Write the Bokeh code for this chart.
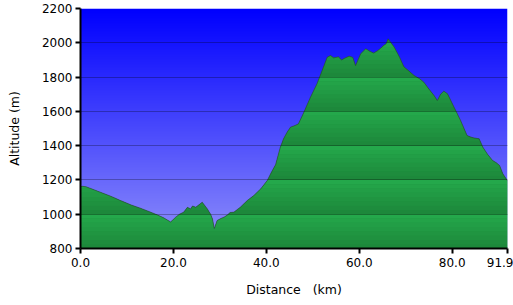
import numpy as np
from bokeh.plotting import figure
from bokeh.models import Range1d, FixedTicker, NumeralTickFormatter
from bokeh.embed import file_html
from bokeh.resources import INLINE

# ---- data ----
dist_km = [0.0, 0.4, 1.2, 2.2, 4.3, 6.5, 8.6, 10.8, 12.9, 15.1, 16.6, 17.9, 19.4,
           20.5, 21.3, 22.2, 23.0, 23.7, 24.1, 24.8, 25.5, 26.2, 27.3, 28.0, 28.4,
           28.8, 29.4, 30.2, 30.9, 31.6, 32.2, 33.0, 34.4, 35.9, 37.3, 38.8, 40.2,
           41.0, 42.0, 43.0, 43.7, 44.5, 45.2, 46.2, 46.9, 48.0, 49.5, 50.9, 52.0,
           53.1, 53.8, 54.5, 55.5, 56.2, 56.7, 57.8, 58.6, 59.2, 60.3, 61.4, 62.3,
           63.1, 64.0, 64.6, 65.3, 65.8, 66.2, 67.5, 68.6, 69.6, 70.7, 71.8, 73.0,
           73.9, 75.0, 76.1, 76.8, 77.5, 78.2, 79.0, 80.4, 81.8, 83.2, 84.0, 84.7,
           85.8, 86.6, 87.6, 88.7, 89.5, 90.2, 90.9, 91.9]
alt_m = [1160, 1163, 1160, 1150, 1128, 1105, 1080, 1055, 1035, 1012, 995, 979, 955,
         983, 1000, 1012, 1040, 1031, 1048, 1041, 1055, 1070, 1031, 1000, 973,
         917, 963, 975, 983, 995, 1010, 1012, 1041, 1080, 1109, 1148, 1197,
         1240, 1290, 1390, 1440, 1480, 1508, 1518, 1527, 1590, 1683, 1761, 1838,
         1916, 1926, 1912, 1918, 1900, 1908, 1922, 1915, 1867, 1936, 1965, 1950,
         1940, 1955, 1968, 1985, 1995, 2023, 1975, 1920, 1860, 1835, 1809, 1790,
         1770, 1730, 1692, 1663, 1700, 1718, 1702, 1624, 1547, 1459, 1450, 1445,
         1440, 1391, 1350, 1313, 1300, 1284, 1236, 1195]

x_ticks = [0.0, 20.0, 40.0, 60.0, 80.0, 91.9]
y_ticks = [800, 1000, 1200, 1400, 1600, 1800, 2000, 2200]

x_label = "Distance\u00a0\u00a0 (km)"
y_label = "Altitude (m)"

x_min, x_max = 0.0, 91.9
y_min, y_max = 800, 2200

# ---- figure ----
p = figure(frame_width=427, frame_height=240,
           x_range=Range1d(x_min, x_max), y_range=Range1d(y_min, y_max),
           output_backend="svg", toolbar_location=None,
           min_border_left=80, min_border_right=6,
           min_border_top=8, min_border_bottom=57)
p.background_fill_color = "white"
p.border_fill_color = "white"
p.outline_line_color = None

# background vertical gradient (blue)
n = 240
t = np.linspace(0.0, 1.0, n)[:, None]
top_c = np.array([0, 0, 255])
bot_c = np.array([146, 146, 250])
cols = (bot_c + (top_c - bot_c) * t).astype(np.uint8)
img = np.zeros((n, 1), dtype=np.uint32)
view = img.view(dtype=np.uint8).reshape((n, 1, 4))
view[:, :, 0] = cols[:, 0:1]
view[:, :, 1] = cols[:, 1:2]
view[:, :, 2] = cols[:, 2:3]
view[:, :, 3] = 255
p.image_rgba(image=[img], x=x_min, y=y_min, dw=x_max - x_min, dh=y_max - y_min)

# green fill with band gradient
d = np.array(dist_km, dtype=float)
alt = np.array(alt_m, dtype=float)


def crossings(level):
    """x positions where the profile polyline crosses a level"""
    xs = []
    for i in range(len(d) - 1):
        a0, a1 = alt[i], alt[i + 1]
        if (a0 - level) * (a1 - level) < 0:
            xs.append(d[i] + (level - a0) / (a1 - a0) * (d[i + 1] - d[i]))
    return xs


dark = np.array([29, 136, 59])
light = np.array([36, 168, 75])
p.varea(x=d, y1=y_min, y2=alt, fill_color="#1f913f")
nsub = 8
step = 200.0
for lo in np.arange(y_min, y_max, step):
    for k in range(nsub):
        b0 = lo + k * step / nsub
        b1 = b0 + step / nsub
        if b0 >= alt.max():
            continue
        xr = np.unique(np.concatenate([d, crossings(b0), crossings(b1)]))
        ar = np.interp(xr, d, alt)
        frac = k / (nsub - 1)
        c = (dark + (light - dark) * frac).astype(int)
        col = "#%02x%02x%02x" % tuple(c)
        p.varea(x=xr, y1=b0, y2=np.clip(ar, b0, b1), fill_color=col)

p.line(d, alt, line_color="#2b3b33", line_alpha=0.55, line_width=1)

# grid
p.xgrid.visible = False
p.ygrid.ticker = FixedTicker(ticks=y_ticks)
p.ygrid.grid_line_color = "black"
p.ygrid.grid_line_alpha = 0.28
p.ygrid.grid_line_width = 1
p.ygrid.level = "overlay"

# axes
p.xaxis.ticker = FixedTicker(ticks=x_ticks)
p.xaxis.formatter = NumeralTickFormatter(format="0.0")
p.yaxis.ticker = FixedTicker(ticks=y_ticks)
for ax in (p.xaxis, p.yaxis):
    ax.axis_line_width = 2
    ax.axis_line_color = "black"
    ax.major_tick_line_color = "black"
    ax.major_tick_line_width = 2
    ax.major_tick_out = 5
    ax.major_tick_in = 0
    ax.minor_tick_line_color = None
    ax.major_label_text_font = "DejaVu Sans"
    ax.major_label_text_font_size = "12px"
    ax.major_label_text_color = "black"
    ax.axis_label_text_font = "DejaVu Sans"
    ax.axis_label_text_font_size = "12.5px"
    ax.axis_label_text_font_style = "normal"
    ax.axis_label_text_color = "black"
p.xaxis.axis_label = x_label
p.yaxis.axis_label = y_label
p.xaxis.major_label_standoff = 4
p.yaxis.major_label_standoff = 3
p.xaxis.axis_label_standoff = 12
p.yaxis.axis_label_standoff = 17

open("out.html", "w").write(file_html(p, INLINE))
